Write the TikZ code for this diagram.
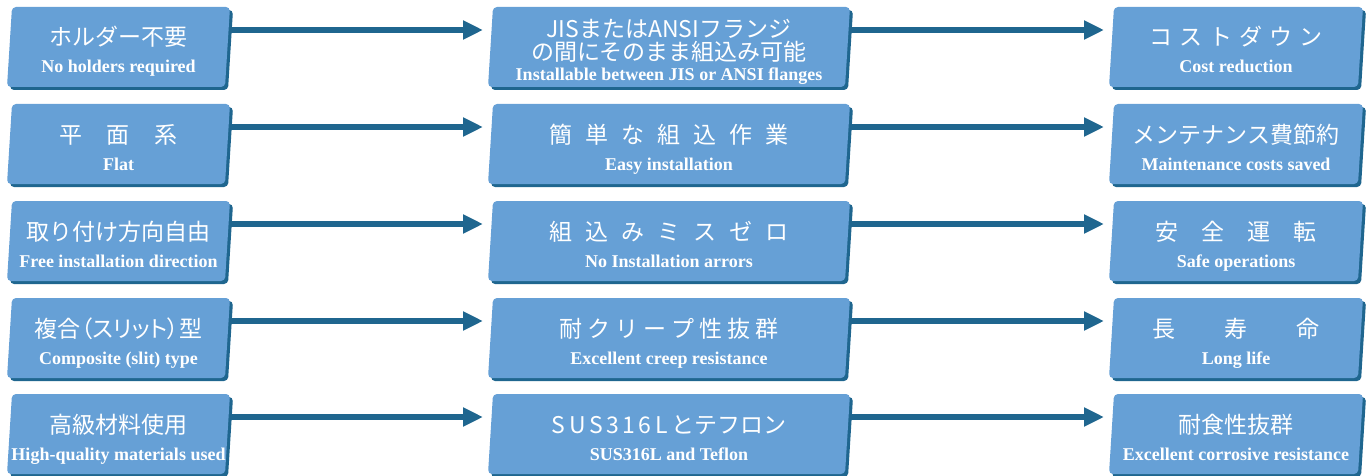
\documentclass[tikz,border=0pt]{standalone}
\usepackage{fontspec}
\setmainfont{Liberation Serif}
\newfontfamily\jp{Noto Sans CJK JP}
\newfontfamily\jpp[RawFeature=+palt]{Noto Sans CJK JP}
\usetikzlibrary{arrows.meta}
\definecolor{facec}{RGB}{102,160,214}
\definecolor{shadec}{RGB}{31,102,143}
\tikzset{
 boxarea/.style={inner sep=0pt, outer sep=0pt, minimum height=80pt},
 jptext/.style={anchor=base, text=white, inner sep=0pt, font=\jp\fontsize{23}{24}\selectfont},
 entext/.style={anchor=base, text=white, inner sep=0pt, font=\bfseries\fontsize{18}{20}\selectfont},
 conn/.style={draw=shadec, line width=5.5pt, -{Triangle[length=20pt,width=18pt]}},
}
\newcommand\pbox[4]{%
 \node[boxarea, minimum width=#4pt] (#1) at (#2,#3) {};
 \fill[shadec, rounded corners=4pt] ([xshift=8pt,yshift=-3pt]#1.north west) -- ([xshift=3pt,yshift=-3pt]#1.north east) -- ([xshift=-2pt,yshift=-3pt]#1.south east) -- ([xshift=3pt,yshift=-3pt]#1.south west) -- cycle;
 \fill[facec, rounded corners=4pt] ([xshift=5pt]#1.north west) -- (#1.north east) -- ([xshift=-5pt]#1.south east) -- (#1.south west) -- cycle;
}
\newcommand\jpen[3]{%
 \node[jptext] (#1j) at ([yshift=1pt]#1.center) {#2};
 \node[entext] (#1e) at ([yshift=-26pt]#1.center) {#3};
}
\newcommand\ls{\hspace{3.5pt}}
\begin{document}
\begin{tikzpicture}[x=1pt,y=-1pt]
\useasboundingbox (0,0) rectangle (1368,476);
% boxes
\foreach \r/\cy in {1/47,2/144,3/241,4/338,5/434}{
 \pbox{r\r c1}{118.5}{\cy}{223}
 \pbox{r\r c2}{669}{\cy}{362}
 \pbox{r\r c3}{1236}{\cy}{254}
}
% arrows
\foreach \r in {1,...,5}{
 \draw[conn] ([yshift=17pt]r\r c1.east) -- ([xshift=-5pt,yshift=17pt]r\r c2.west);
 \draw[conn] ([yshift=17pt]r\r c2.east) -- ([xshift=-5pt,yshift=17pt]r\r c3.west);
}
% row 1
\jpen{r1c1}{ホルダー不要}{No holders required}
\node[jptext] (r1c2a) at ([yshift=9pt]r1c2.center) {JISまたはANSIフランジ};
\node[jptext] (r1c2b) at ([yshift=-14pt]r1c2.center) {の間にそのまま組込み可能};
\node[entext] (r1c2e) at ([yshift=-34pt]r1c2.center) {Installable between JIS or ANSI flanges};
\jpen{r1c3}{コ\hspace{7pt}ス\hspace{7pt}ト\hspace{7pt}ダ\hspace{7pt}ウ\hspace{7pt}ン}{Cost reduction}
% row 2
\jpen{r2c1}{平\hspace{25pt}面\hspace{25pt}系}{Flat}
\jpen{r2c2}{簡\hspace{13pt}単\hspace{13pt}な\hspace{13pt}組\hspace{13pt}込\hspace{13pt}作\hspace{13pt}業}{Easy installation}
\jpen{r2c3}{メンテナンス費節約}{Maintenance costs saved}
% row 3
\jpen{r3c1}{取り付け方向自由}{Free installation direction}
\jpen{r3c2}{組\hspace{13pt}込\hspace{13pt}み\hspace{13pt}ミ\hspace{13pt}ス\hspace{13pt}ゼ\hspace{13pt}ロ}{No Installation arrors}
\jpen{r3c3}{安\hspace{23pt}全\hspace{23pt}運\hspace{23pt}転}{Safe operations}
% row 4
\jpen{r4c1}{\jpp 複合（スリット）型}{Composite (slit) type}
\jpen{r4c2}{耐\hspace{5pt}ク\hspace{5pt}リ\hspace{5pt}ー\hspace{5pt}プ\hspace{5pt}性\hspace{5pt}抜\hspace{5pt}群}{Excellent creep resistance}
\jpen{r4c3}{長\hspace{49pt}寿\hspace{49pt}命}{Long life}
% row 5
\jpen{r5c1}{高級材料使用}{High-quality materials used}
\jpen{r5c2}{S\ls U\ls S\ls 3\ls 1\ls 6\ls L\ls とテフロン}{SUS316L and Teflon}
\jpen{r5c3}{耐食性抜群}{Excellent corrosive resistance}
\end{tikzpicture}
\end{document}
